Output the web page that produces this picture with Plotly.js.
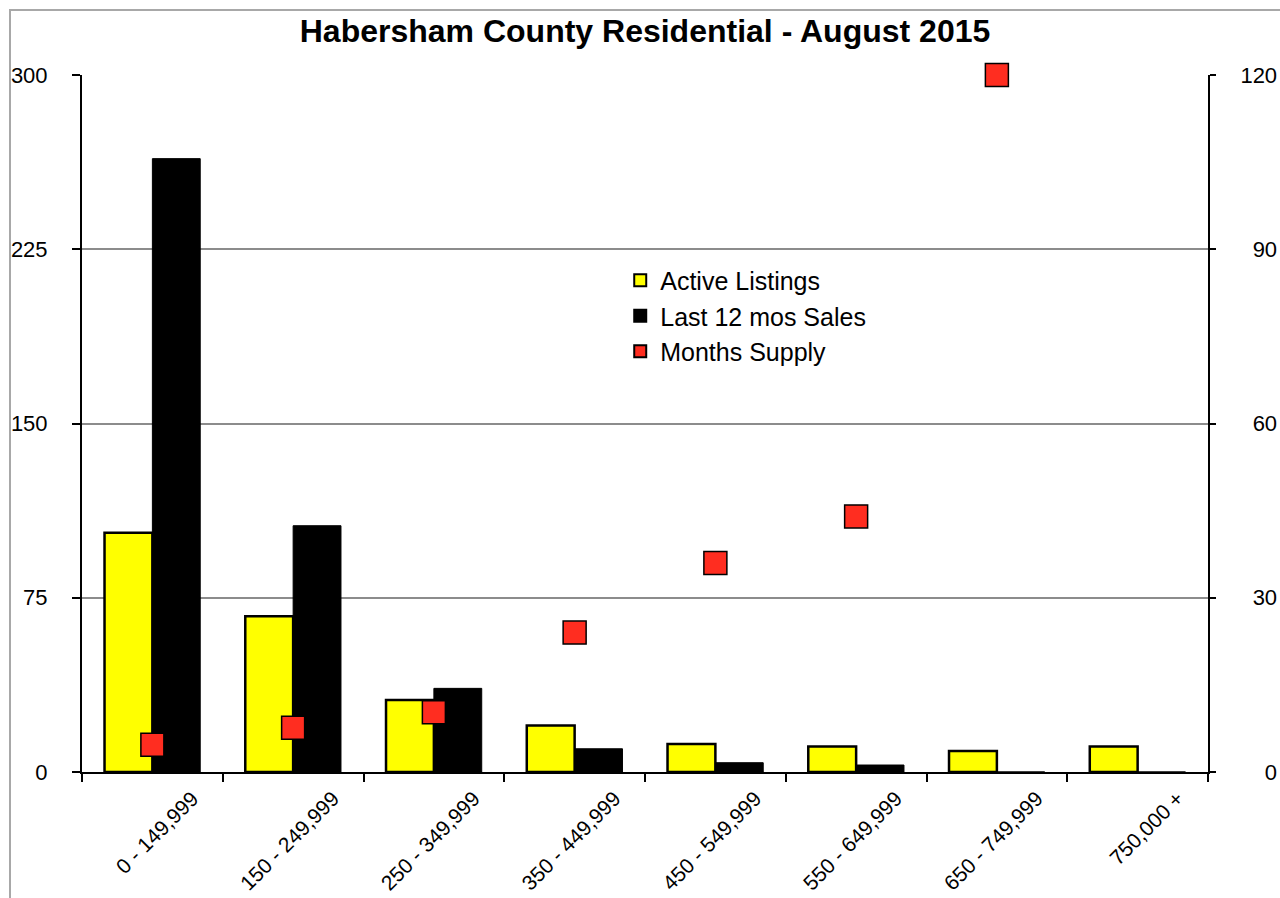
<!DOCTYPE html>
<html>
<head>
<meta charset="utf-8">
<script src="https://cdn.plot.ly/plotly-3.0.1.min.js"></script>
<style>
  html, body { margin: 0; padding: 0; background: #fff; }
  #chart { width: 1280px; height: 898px; }
</style>
</head>
<body>
<div id="chart"></div>
<script>
const categories = ['0 - 149,999', '150 - 249,999', '250 - 349,999', '350 - 449,999',
                    '450 - 549,999', '550 - 649,999', '650 - 749,999', '750,000 +'];
const activeListings = [103, 67, 31, 20, 12, 11, 9, 11];
const last12Sales = [264, 106, 36, 10, 4, 3, 0, 0];
const monthsSupply = [4.7, 7.6, 10.3, 24, 36, 44, 120, null];

const leftTickVals = [0, 75, 150, 225, 300];
const leftTickText = ['0', '75', '150', '225', '300'];
const rightTickVals = [0, 30, 60, 90, 120];
const rightTickText = ['\u2007\u20070', '\u200730', '\u200760', '\u200790', '120'];

const FONT = 'Liberation Sans, Arial, Helvetica, sans-serif';

const traces = [
  {
    type: 'bar', name: 'Active Listings', x: categories, y: activeListings,
    marker: { color: '#ffff00', line: { color: '#000000', width: 2.5 } },
    hoverinfo: 'x+y'
  },
  {
    type: 'bar', name: 'Last 12 mos Sales', x: categories, y: last12Sales,
    marker: { color: '#000000', line: { color: '#000000', width: 1 } },
    hoverinfo: 'x+y'
  },
  {
    type: 'scatter', mode: 'markers', name: 'Months Supply', x: categories, y: monthsSupply,
    yaxis: 'y2', cliponaxis: false,
    marker: { symbol: 'square', size: 23, color: '#ff2d20', line: { color: '#000000', width: 1.5 } },
    hoverinfo: 'x+y'
  }
];

const layout = {
  width: 1280, height: 898,
  margin: { l: 82, r: 72, t: 75, b: 126 },
  paper_bgcolor: '#ffffff', plot_bgcolor: '#ffffff',
  font: { family: FONT, color: '#000000' },
  title: {
    text: 'Habersham County Residential - August 2015',
    font: { family: FONT, size: 32, weight: 'bold', color: '#000000' },
    xref: 'paper', x: 0.5, xanchor: 'center',
    yref: 'container', y: 1 - 31 / 898, yanchor: 'middle'
  },
  barmode: 'group', bargap: 0.32, bargroupgap: 0,
  showlegend: true,
  legend: {
    x: 0.478, y: 0.738, xanchor: 'left', yanchor: 'top',
    font: { family: FONT, size: 25, color: '#000000' },
    bgcolor: 'rgba(0,0,0,0)', traceorder: 'normal', tracegroupgap: 0,
    itemsizing: 'constant'
  },
  xaxis: {
    type: 'category', range: [-0.5, 7.5],
    showline: true, linecolor: '#000000', linewidth: 2,
    ticks: 'outside', tickson: 'boundaries', ticklen: 8, tickwidth: 2, tickcolor: '#000000',
    tickangle: -45, ticklabelshift: 40, ticklabelstandoff: 4,
    tickfont: { family: FONT, size: 21, color: '#000000' },
    showgrid: false, zeroline: false, fixedrange: true
  },
  yaxis: {
    range: [0, 300], tickvals: leftTickVals, ticktext: leftTickText,
    showline: true, linecolor: '#000000', linewidth: 2,
    ticks: 'outside', ticklen: 8, tickwidth: 2, tickcolor: '#000000',
    ticklabelstandoff: 20,
    tickfont: { family: FONT, size: 22, color: '#000000' },
    showgrid: true, gridcolor: '#8c8c8c', gridwidth: 2, zeroline: false, fixedrange: true
  },
  yaxis2: {
    range: [0, 120], tickvals: rightTickVals, ticktext: rightTickText,
    overlaying: 'y', side: 'right',
    showline: true, linecolor: '#000000', linewidth: 2,
    ticks: 'outside', ticklen: 6, tickwidth: 2, tickcolor: '#000000',
    ticklabelstandoff: 20,
    tickfont: { family: FONT, size: 22, color: '#000000' },
    showgrid: false, zeroline: false, fixedrange: true
  },
  shapes: [
    {
      type: 'rect', xref: 'paper', yref: 'paper',
      x0: (10 - 82) / 1126, x1: 1.3, y0: -0.4, y1: (772 - 10) / 697,
      line: { color: '#a8a8a8', width: 2 }, fillcolor: 'rgba(0,0,0,0)', layer: 'below'
    }
  ]
};

Plotly.newPlot('chart', traces, layout, { displayModeBar: false, staticPlot: true });
</script>
</body>
</html>
